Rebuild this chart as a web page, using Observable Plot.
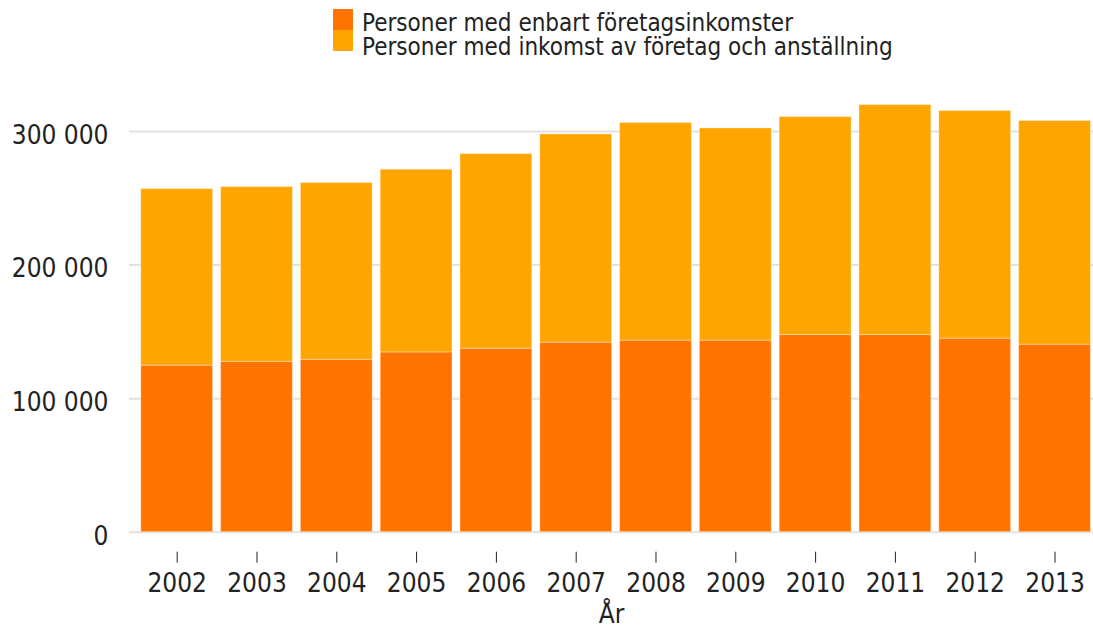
<!DOCTYPE html>
<html>
<head>
<meta charset="utf-8">
<script src="https://cdn.jsdelivr.net/npm/d3@7"></script>
<script src="https://cdn.jsdelivr.net/npm/@observablehq/plot@0.6"></script>
<style>
  html, body { margin: 0; padding: 0; background: #fff; }
  body { width: 1093px; height: 631px; overflow: hidden; font-family: "DejaVu Sans Condensed", "DejaVu Sans", sans-serif; color: #222; }
  #legend { position: relative; height: 60px; }
  .sw { position: absolute; left: 333px; width: 20px; height: 21px; }
  .lt { position: absolute; left: 362px; top: 11.4px; font-size: 24px; line-height: 24px; white-space: pre; }
  svg { display: block; }
</style>
</head>
<body>
<div id="legend"></div>
<div id="chart"></div>
<script>
const years = ["2002","2003","2004","2005","2006","2007","2008","2009","2010","2011","2012","2013"];
const seriesNames = ["Personer med enbart företagsinkomster", "Personer med inkomst av företag och anställning"];
const seriesColors = ["#ff7400", "#ffa500"];
const enbart = [124700,127600,129100,134600,137400,141900,143400,143400,147600,147600,144900,140400];
const kombi  = [132200,130800,132300,136800,145700,155900,163000,158900,163200,172200,170400,167500];
const yTicks = [0, 100000, 200000, 300000];

const data = [];
years.forEach((y, i) => {
  data.push({year: y, series: seriesNames[0], value: enbart[i]});
  data.push({year: y, series: seriesNames[1], value: kombi[i]});
});

// legend: swatches plus one text block with the two names on separate lines
const legend = document.getElementById("legend");
seriesNames.forEach((name, i) => {
  const sw = document.createElement("div");
  sw.className = "sw";
  sw.style.top = (9 + i * 21) + "px";
  sw.style.background = seriesColors[i];
  legend.appendChild(sw);
});
const lt = document.createElement("div");
lt.className = "lt";
lt.textContent = seriesNames.join("\n");
legend.appendChild(lt);

const fmt = d3.formatLocale({decimal: ",", thousands: " ", grouping: [3], currency: ["", ""]}).format(",d");

const chart = Plot.plot({
  width: 1093,
  height: 571,
  marginLeft: 129,
  marginRight: 0,
  marginTop: 44.3,
  marginBottom: 79.3,
  style: {fontFamily: '"DejaVu Sans Condensed", "DejaVu Sans", sans-serif', fontSize: "26px", color: "#222", background: "#fff"},
  x: {domain: years, paddingInner: 0.1, paddingOuter: 0.09, align: 0.82, round: false, label: null},
  y: {domain: [0, 320000], insetBottom: 20, label: null},
  color: {domain: seriesNames, range: seriesColors},
  marks: [
    Plot.ruleY(yTicks, {stroke: "#e2e2e2", strokeWidth: 2}),
    Plot.barY(data, {x: "year", y: "value", fill: "series", order: seriesNames, stroke: "white", strokeOpacity: 0.35, strokeWidth: 1}),
    Plot.axisY(yTicks, {tickSize: 0, tickPadding: 21, tickFormat: fmt, dy: 4, label: null, fontSize: 26}),
    Plot.axisX({tickSize: 11, tickPadding: 10, label: null, fontSize: 26, stroke: "#222"}),
    Plot.text(["År"], {frameAnchor: "bottom", dy: 52, lineAnchor: "top", fontSize: 26, fill: "#222"})
  ]
});
document.getElementById("chart").appendChild(chart);
</script>
</body>
</html>
